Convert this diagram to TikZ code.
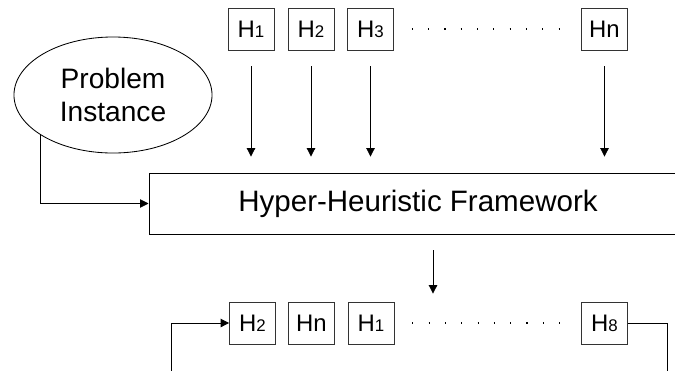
\documentclass[tikz,border=0pt]{standalone}
\usepackage{fontspec}
\setmainfont{Liberation Sans}
\usetikzlibrary{arrows.meta,shapes.geometric}
\begin{document}
\begin{tikzpicture}[x=0.025cm, y=-0.025cm, line width=0.6pt]
	\tikzstyle{hbox}=[draw=black!80, minimum width=1.15cm, minimum height=1.05cm, inner sep=0pt, font=\fontsize{17}{19}\selectfont]
	\tikzstyle{arr}=[-{Triangle[length=6pt, width=6pt]}]
	\tikzstyle{dots}=[line width=0.8pt, dash pattern=on 0.8pt off 10.8pt]
	\useasboundingbox (0,0) rectangle (675,370);
	\draw 
	node[draw, ellipse, minimum width=4.95cm, minimum height=2.9cm, align=center, font=\fontsize{20}{23}\selectfont](P)at(113,95){Problem\\Instance}
	node[hbox](T1)at(251,29){H{\fontsize{12}{12}\selectfont 1}}
	node[hbox](T2)at(311,29){H{\fontsize{12}{12}\selectfont 2}}
	node[hbox](T3)at(370.5,29){H{\fontsize{12}{12}\selectfont 3}}
	node[hbox](Tn)at(604.5,29){Hn}
	node[draw, minimum width=13.45cm, minimum height=1.525cm, font=\fontsize{21}{24}\selectfont](F)at(418,203.5){Hyper-Heuristic Framework}
	node[hbox](S2)at(252.5,323){H{\fontsize{12}{12}\selectfont 2}}
	node[hbox](Sn)at(311.5,323){Hn}
	node[hbox](S1)at(371,323){H{\fontsize{12}{12}\selectfont 1}}
	node[hbox](S8)at(604.5,323){H{\fontsize{12}{12}\selectfont 8}};
	\coordinate (L)at(171,372);
	\coordinate (R)at(667,372);

	\draw[dots, shorten <=12.7pt, shorten >=15pt](T3)--(Tn);
	\draw[dots, shorten <=12.7pt, shorten >=15pt](S1)--(S8);
	\foreach \t in {T1,T2,T3,Tn}
		\draw[arr, shorten <=0.4cm, shorten >=0.4cm](\t.south)--(\t.south |- F.north);
	\draw[arr](P.209)--(P.209 |- F.west)--(F.west);
	\draw[arr, shorten <=0.4cm, shorten >=0.2cm]([xshift=0.375cm]F.south)--([xshift=0.375cm]F.south |- S1.north);
	\draw(S8.east)--(S8.east -| R)--(R);
	\draw[arr](L)--(L |- S2.west)--(S2.west);
\end{tikzpicture}
\end{document}
